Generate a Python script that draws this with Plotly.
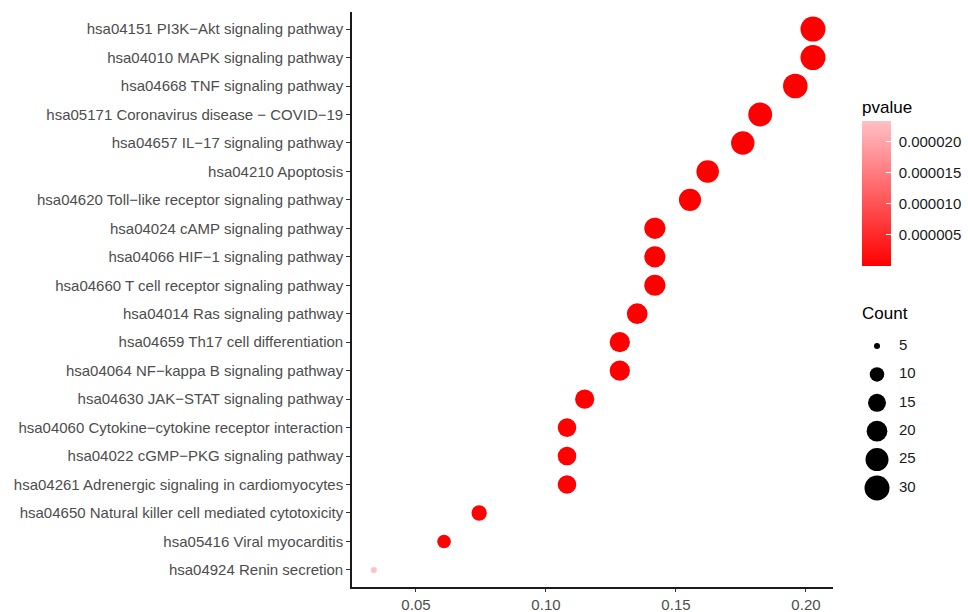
import plotly.graph_objects as go

# ---- data (top to bottom) ----
pathways = [
    "hsa04151 PI3K\u2212Akt signaling pathway",
    "hsa04010 MAPK signaling pathway",
    "hsa04668 TNF signaling pathway",
    "hsa05171 Coronavirus disease \u2212 COVID\u221219",
    "hsa04657 IL\u221217 signaling pathway",
    "hsa04210 Apoptosis",
    "hsa04620 Toll\u2212like receptor signaling pathway",
    "hsa04024 cAMP signaling pathway",
    "hsa04066 HIF\u22121 signaling pathway",
    "hsa04660 T cell receptor signaling pathway",
    "hsa04014 Ras signaling pathway",
    "hsa04659 Th17 cell differentiation",
    "hsa04064 NF\u2212kappa B signaling pathway",
    "hsa04630 JAK\u2212STAT signaling pathway",
    "hsa04060 Cytokine\u2212cytokine receptor interaction",
    "hsa04022 cGMP\u2212PKG signaling pathway",
    "hsa04261 Adrenergic signaling in cardiomyocytes",
    "hsa04650 Natural killer cell mediated cytotoxicity",
    "hsa05416 Viral myocarditis",
    "hsa04924 Renin secretion",
]
gene_ratio = [0.2027, 0.2027, 0.1959, 0.1824, 0.1757, 0.1622, 0.1554, 0.1419,
              0.1419, 0.1419, 0.1351, 0.1284, 0.1284, 0.1149, 0.1081, 0.1081,
              0.1081, 0.0743, 0.0608, 0.0338]
counts = [30, 30, 29, 27, 26, 24, 23, 21, 21, 21, 20, 19, 19, 17, 16, 16, 16, 11, 9, 5]
pvalues = [1e-20, 1e-18, 1e-17, 1e-15, 1e-16, 1e-14, 1e-13, 1e-10, 1e-11, 1e-10,
           1e-8, 1e-10, 1e-9, 1e-8, 1e-7, 1e-7, 1e-7, 2e-7, 3e-7, 2.33e-5]

x_ticks = [0.05, 0.10, 0.15, 0.20]
x_ticktext = ["0.05", "0.10", "0.15", "0.20"]
p_ticks = [0.000005, 0.000010, 0.000015, 0.000020]
p_ticktext = ["0.000005", "0.000010", "0.000015", "0.000020"]
legend_counts = [5, 10, 15, 20, 25, 30]

# ---- styling helpers ----
W, H = 968, 612
cmin_n, cmax_n = min(counts), max(counts)


def size_px(c):
    # ggplot2 area scale (range 1..6) converted to pixel diameter
    s = 1 + 5 * ((c - cmin_n) / (cmax_n - cmin_n)) ** 0.5
    return 2.2 + 3.8 * s


colorscale = [[0, "#FF0000"], [1, "#FFC0C6"]]
FONT = "Liberation Sans, Arial, sans-serif"
TXT = "#4D4D4D"
LX0 = 850  # left pixel of legend panel
NB = "\u00a0"

fig = go.Figure()

fig.add_trace(go.Scatter(
    x=gene_ratio, y=pathways, mode="markers",
    marker=dict(
        size=[size_px(c) for c in counts],
        color=pvalues, colorscale=colorscale,
        cmin=0, cmax=max(pvalues),
        line=dict(width=0), opacity=1,
        showscale=True,
        colorbar=dict(
            title=dict(text="pvalue", side="top", font=dict(size=17, color="#000", family=FONT)),
            x=862 / W, xanchor="left", xpad=0,
            y=1 - 97 / H, yanchor="top", ypad=0,
            len=169 / H, lenmode="fraction", thickness=29,
            outlinewidth=0,
            tickvals=p_ticks, ticktext=[NB + t for t in p_ticktext],
            ticks="inside", ticklen=5, tickcolor="white", tickwidth=1,
            tickfont=dict(size=15, color="#1A1A1A", family=FONT),
        ),
    ),
    showlegend=False, hoverinfo="x+y",
))

# size legend (drawn on auxiliary axes in pixel units)
leg_y = [346 + 28.4 * i for i in range(len(legend_counts))]
fig.add_trace(go.Scatter(
    x=[877] * len(legend_counts), y=leg_y, mode="markers",
    marker=dict(size=[size_px(c) for c in legend_counts], color="rgb(0,0,0)",
                opacity=1, line=dict(width=0)),
    xaxis="x2", yaxis="y2", showlegend=False, hoverinfo="skip",
))
fig.add_trace(go.Scatter(
    x=[899] * len(legend_counts), y=leg_y, mode="text",
    text=[str(c) for c in legend_counts], textposition="middle right",
    textfont=dict(size=15, color="#1A1A1A", family=FONT),
    xaxis="x2", yaxis="y2", showlegend=False, hoverinfo="skip",
))
fig.add_annotation(
    text="Count", x=860, y=313, xref="x2", yref="y2", xanchor="left", yanchor="middle",
    showarrow=False, font=dict(size=17, color="#000", family=FONT),
)

fig.update_layout(
    width=W, height=H,
    margin=dict(l=0, r=0, t=0, b=0),
    paper_bgcolor="white", plot_bgcolor="rgba(0,0,0,0)",
    font=dict(family=FONT, color=TXT),
    xaxis=dict(
        domain=[352 / W, 833 / W], range=[0.0254, 0.2104], anchor="y",
        tickvals=x_ticks, ticktext=x_ticktext,
        showgrid=False, zeroline=False,
        showline=True, linecolor="#1A1A1A", linewidth=1.6,
        ticks="outside", ticklen=3, tickcolor="#333333", tickwidth=1,
        tickfont=dict(size=15, color=TXT, family=FONT),
        automargin=False,
    ),
    yaxis=dict(
        domain=[1 - 587 / H, 1 - 12 / H], anchor="x",
        categoryorder="array", categoryarray=pathways,
        range=[19.6, -0.6],
        showgrid=False, zeroline=False,
        showline=True, linecolor="#1A1A1A", linewidth=1.6,
        ticks="outside", ticklen=4, tickcolor="#333333", tickwidth=1,
        tickfont=dict(size=15, color=TXT, family=FONT),
        automargin=False,
    ),
    xaxis2=dict(domain=[LX0 / W, 1], range=[LX0, W], anchor="y2", visible=False, fixedrange=True),
    yaxis2=dict(domain=[0, 1], range=[H, 0], anchor="x2", visible=False, fixedrange=True),
)

fig.write_html("out.html", config={"displayModeBar": False},
               post_script="document.body.style.margin='0';document.body.style.overflow='hidden';")
